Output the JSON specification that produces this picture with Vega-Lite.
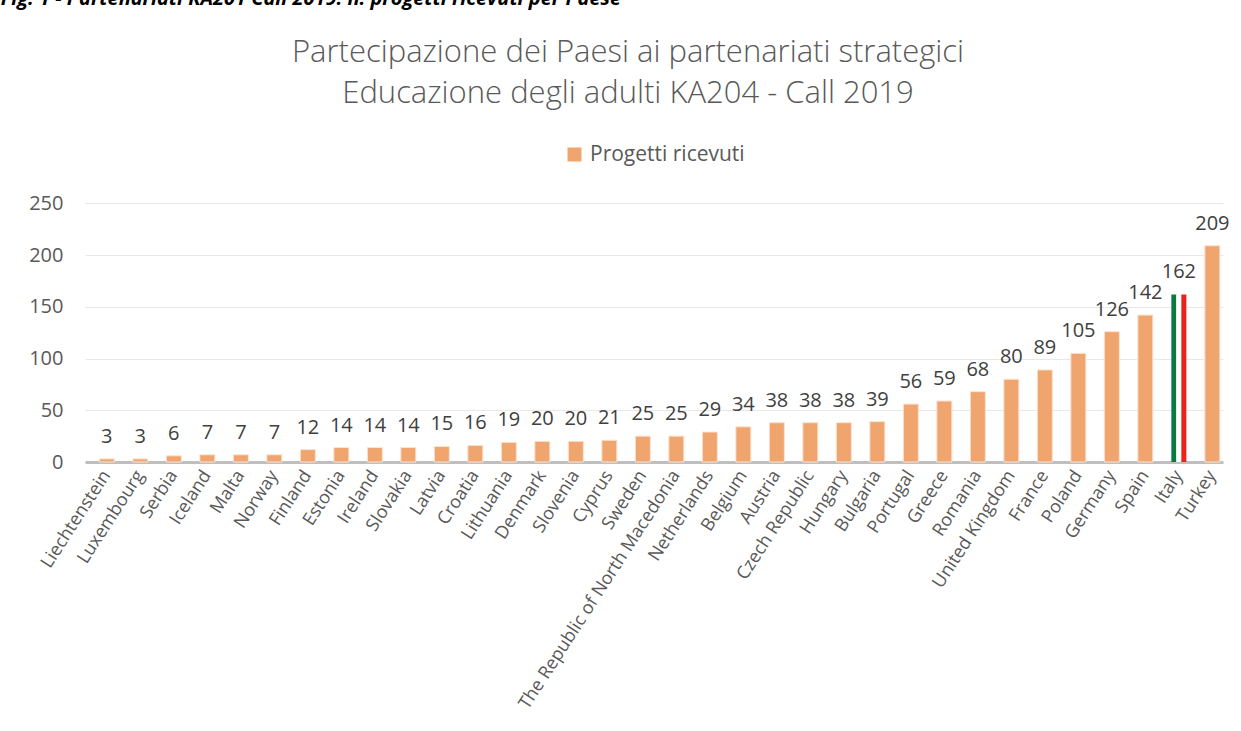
{
  "$schema": "https://vega.github.io/schema/vega-lite/v6.json",
  "padding": {"top": -11, "left": 0, "right": 5, "bottom": 5},
  "background": "white",
  "title": {
    "text": "Fig. 1 - Partenariati KA201 Call 2019: n. progetti ricevuti per Paese",
    "anchor": "start",
    "fontStyle": "italic",
    "fontWeight": "bold",
    "fontSize": 20,
    "color": "#000000",
    "dx": -28,
    "offset": 28,
    "font": "Open Sans"
  },
  "datasets": {
    "paesi": [
      {"paese": "Liechtenstein", "progetti": 3},
      {"paese": "Luxembourg", "progetti": 3},
      {"paese": "Serbia", "progetti": 6},
      {"paese": "Iceland", "progetti": 7},
      {"paese": "Malta", "progetti": 7},
      {"paese": "Norway", "progetti": 7},
      {"paese": "Finland", "progetti": 12},
      {"paese": "Estonia", "progetti": 14},
      {"paese": "Ireland", "progetti": 14},
      {"paese": "Slovakia", "progetti": 14},
      {"paese": "Latvia", "progetti": 15},
      {"paese": "Croatia", "progetti": 16},
      {"paese": "Lithuania", "progetti": 19},
      {"paese": "Denmark", "progetti": 20},
      {"paese": "Slovenia", "progetti": 20},
      {"paese": "Cyprus", "progetti": 21},
      {"paese": "Sweden", "progetti": 25},
      {"paese": "The Republic of North Macedonia", "progetti": 25},
      {"paese": "Netherlands", "progetti": 29},
      {"paese": "Belgium", "progetti": 34},
      {"paese": "Austria", "progetti": 38},
      {"paese": "Czech Republic", "progetti": 38},
      {"paese": "Hungary", "progetti": 38},
      {"paese": "Bulgaria", "progetti": 39},
      {"paese": "Portugal", "progetti": 56},
      {"paese": "Greece", "progetti": 59},
      {"paese": "Romania", "progetti": 68},
      {"paese": "United Kingdom", "progetti": 80},
      {"paese": "France", "progetti": 89},
      {"paese": "Poland", "progetti": 105},
      {"paese": "Germany", "progetti": 126},
      {"paese": "Spain", "progetti": 142},
      {"paese": "Italy", "progetti": 162},
      {"paese": "Turkey", "progetti": 209}
    ],
    "italia": [
      {"paese": "Italy", "banda": "verde", "progetti": 162},
      {"paese": "Italy", "banda": "bianco", "progetti": 162},
      {"paese": "Italy", "banda": "rosso", "progetti": 162}
    ]
  },
  "resolve": {"legend": {"color": "independent", "fill": "independent"}},
  "vconcat": [
    {
      "width": 1138,
      "height": 269,
      "title": {
        "text": ["Partecipazione dei Paesi ai partenariati strategici", "Educazione degli adulti KA204 - Call 2019"],
        "fontSize": 31,
        "fontWeight": 300,
        "color": "#595959",
        "lineHeight": 41,
        "anchor": "middle",
        "dx": -26,
        "offset": 34,
        "font": "Open Sans"
      },
      "layer": [
        {
          "data": {"name": "paesi"},
          "mark": {"type": "bar", "stroke": "#fbe3d2", "strokeWidth": 1},
          "encoding": {
            "x": {
              "field": "paese",
              "type": "nominal",
              "sort": null,
              "scale": {"paddingInner": 0.552, "paddingOuter": 0.261, "align": 0.82},
              "axis": {
                "title": null,
                "domain": true,
                "domainColor": "#bfbfbf",
                "domainWidth": 3,
                "ticks": false,
                "labelAngle": -57,
                "labelFontSize": 18,
                "labelColor": "#595959",
                "labelPadding": 10,
                "labelLimit": 500,
                "grid": false
              }
            },
            "y": {
              "field": "progetti",
              "type": "quantitative",
              "scale": {"domain": [0, 250]},
              "axis": {
                "title": null,
                "grid": true,
                "gridColor": "#e8e8e8",
                "gridWidth": 1,
                "domain": false,
                "ticks": false,
                "labelPadding": 22,
                "labelFontSize": 20,
                "labelColor": "#595959",
                "values": [0, 50, 100, 150, 200, 250]
              }
            },
            "color": {
              "datum": "Progetti ricevuti",
              "scale": {"range": ["#F1A56E"]},
              "legend": {
                "orient": "top",
                "title": null,
                "labelFontSize": 21,
                "labelColor": "#595959",
                "symbolType": "square",
                "symbolSize": 196,
                "symbolStrokeWidth": 0,
                "labelOffset": 5,
                "offset": 28
              }
            },
            "opacity": {"condition": {"test": "datum.paese === 'Italy'", "value": 0}, "value": 1}
          }
        },
        {
          "data": {"name": "italia"},
          "mark": {"type": "bar"},
          "encoding": {
            "x": {"field": "paese", "type": "nominal", "sort": null},
            "xOffset": {"field": "banda", "type": "nominal", "sort": null, "scale": {"domain": ["verde", "bianco", "rosso"], "paddingInner": 0}},
            "y": {"field": "progetti", "type": "quantitative"},
            "fill": {
              "field": "banda",
              "type": "nominal",
              "scale": {"domain": ["verde", "bianco", "rosso"], "range": ["#0B7A3E", "#FFFFFF", "#E8231A"]},
              "legend": null
            }
          }
        },
        {
          "data": {"name": "paesi"},
          "mark": {"type": "text", "baseline": "alphabetic", "dy": -16, "fontSize": 20, "color": "#404040"},
          "encoding": {
            "x": {"field": "paese", "type": "nominal", "sort": null},
            "y": {"field": "progetti", "type": "quantitative"},
            "text": {"field": "progetti", "type": "quantitative"}
          }
        }
      ]
    }
  ],
  "config": {
    "font": "Open Sans",
    "view": {"stroke": null},
    "legend": {"layout": {"top": {"anchor": "middle"}}}
  }
}
